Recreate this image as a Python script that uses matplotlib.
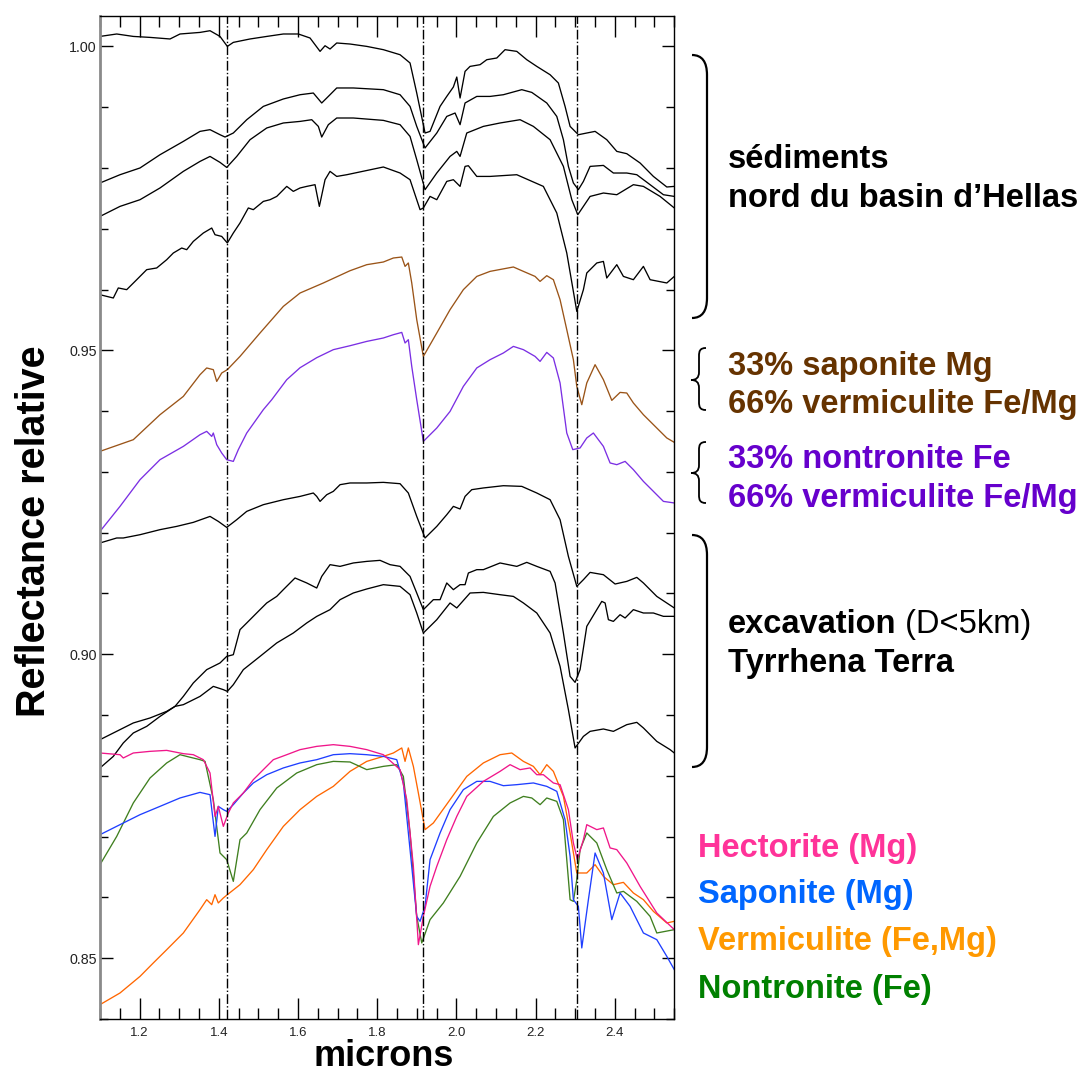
"""
Spectres de réflectance relative : sédiments (Hellas), mélanges, excavation
(Tyrrhena Terra) et spectres de labo de smectites.
"""
import matplotlib
matplotlib.use("Agg")
import matplotlib.pyplot as plt
import matplotlib.ticker as mticker
from matplotlib.path import Path
from matplotlib.patches import PathPatch

plt.rcParams["font.family"] = ["Liberation Sans", "DejaVu Sans"]

# ---------------------------------------------------------------- données
# sédiments, nord du bassin d'Hellas (4 spectres, de haut en bas)
sed1_wl = [1.100, 1.1422, 1.1841, 1.2263, 1.2768, 1.3020, 1.3525, 1.3778, 1.4030, 1.4215,
           1.4366, 1.4788, 1.5210, 1.5629, 1.6008, 1.6303, 1.6556, 1.6682, 1.6808, 1.6977,
           1.7313, 1.7735, 1.8154, 1.8576, 1.8828, 1.8997, 1.9207, 1.9333, 1.9586, 1.9755,
           1.9922, 2.0008, 2.0091, 2.0217, 2.0343, 2.0596, 2.0765, 2.1018, 2.1227, 2.1523,
           2.1775, 2.2028, 2.2364, 2.2573, 2.2742, 2.2869, 2.3078, 2.3290, 2.3500, 2.3795,
           2.4048, 2.4300, 2.4636, 2.4972, 2.5311, 2.550]
sed1_r = [1.00164, 1.00204, 1.00164, 1.00148, 1.00122, 1.00204, 1.0023, 1.00258, 1.00164, 1.0000,
          1.00066, 1.00122, 1.00164, 1.00204, 1.00204, 1.00138, 0.99918, 1.00011, 0.99957, 1.00056,
          1.00039, 1.0000, 0.99946, 0.99863, 0.99727, 0.99233, 0.98575, 0.98602, 0.99013, 0.99177,
          0.99332, 0.99496, 0.99151, 0.99589, 0.99671, 0.99699, 0.99781, 0.99809, 0.99946, 0.99918,
          0.99781, 0.99671, 0.99534, 0.99398, 0.99013, 0.98684, 0.98547, 0.98575, 0.98602, 0.98465,
          0.98273, 0.98235, 0.98082, 0.97861, 0.97687, 0.97697]

sed2_wl = [1.100, 1.1505, 1.2010, 1.2515, 1.3104, 1.3525, 1.3778, 1.4030, 1.4157, 1.4366,
           1.4705, 1.5124, 1.5629, 1.6051, 1.6386, 1.6598, 1.6765, 1.6977, 1.7396, 1.8154,
           1.8576, 1.8828, 1.8997, 1.9207, 1.9503, 1.9755, 1.9965, 2.0091, 2.0217, 2.0513,
           2.0848, 2.1184, 2.1649, 2.1902, 2.2280, 2.2533, 2.2700, 2.2826, 2.2952, 2.3078,
           2.3205, 2.3374, 2.3710, 2.3962, 2.4300, 2.4553, 2.4889, 2.5225, 2.550]
sed2_r = [0.97753, 0.97889, 0.98000, 0.98218, 0.98437, 0.98602, 0.98630, 0.98547, 0.98509, 0.98575,
          0.98794, 0.99013, 0.99135, 0.99205, 0.99233, 0.99069, 0.99177, 0.99316, 0.99316, 0.99288,
          0.99205, 0.99013, 0.98684, 0.98329, 0.98575, 0.98848, 0.98904, 0.98712, 0.99069, 0.99177,
          0.99177, 0.99205, 0.99288, 0.99243, 0.99069, 0.98848, 0.98465, 0.98026, 0.97753, 0.97643,
          0.97779, 0.98026, 0.98042, 0.97917, 0.97917, 0.97889, 0.97725, 0.97560, 0.97532]

sed3_wl = [1.100, 1.1505, 1.2010, 1.2515, 1.3104, 1.3525, 1.3778, 1.4030, 1.4199, 1.4452,
           1.4788, 1.5210, 1.5629, 1.6051, 1.6346, 1.6513, 1.6598, 1.6765, 1.6977, 1.7396,
           1.8154, 1.8576, 1.8828, 1.8997, 1.9207, 1.9503, 1.9838, 2.0008, 2.0091, 2.0260,
           2.0679, 2.1101, 2.1606, 2.1942, 2.2364, 2.2700, 2.2912, 2.3063, 2.3374, 2.3710,
           2.4048, 2.4467, 2.4720, 2.5141, 2.550]
sed3_r = [0.97203, 0.97368, 0.97478, 0.97671, 0.97944, 0.98108, 0.98190, 0.98092, 0.98009, 0.98190,
          0.98465, 0.98658, 0.98740, 0.98766, 0.98794, 0.98684, 0.98509, 0.98712, 0.98822, 0.98822,
          0.98783, 0.98712, 0.98519, 0.98136, 0.97643, 0.97917, 0.98190, 0.98273, 0.98190, 0.98575,
          0.98684, 0.98740, 0.98794, 0.98684, 0.98465, 0.98026, 0.97478, 0.97231, 0.97532, 0.97588,
          0.97560, 0.97725, 0.97697, 0.97532, 0.97342]

sed4_wl = [1.100, 1.1336, 1.1462, 1.1674, 1.1927, 1.2179, 1.2432, 1.2684, 1.2851, 1.3063,
           1.3189, 1.3356, 1.3609, 1.3821, 1.3904, 1.4073, 1.4215, 1.4366, 1.4535, 1.4745,
           1.4871, 1.5124, 1.5293, 1.5462, 1.5715, 1.5881, 1.6051, 1.6220, 1.6429, 1.6538,
           1.6682, 1.6808, 1.6977, 1.7230, 1.8154, 1.8576, 1.8828, 1.9081, 1.9164, 1.9333,
           1.9503, 1.9755, 1.9922, 2.0091, 2.0217, 2.0301, 2.0513, 2.0848, 2.1523, 2.2194,
           2.2533, 2.2785, 2.3038, 2.3205, 2.3290, 2.3543, 2.3710, 2.3795, 2.4048, 2.4215,
           2.4467, 2.4720, 2.4889, 2.5311, 2.550]
sed4_r = [0.95915, 0.95861, 0.96026, 0.95998, 0.96162, 0.96327, 0.96355, 0.96491, 0.96601, 0.96683,
          0.96656, 0.96792, 0.96930, 0.97012, 0.96902, 0.96874, 0.96766, 0.96930, 0.97095, 0.97342,
          0.97314, 0.97450, 0.97478, 0.97532, 0.97697, 0.97615, 0.97671, 0.97697, 0.97725, 0.97368,
          0.97807, 0.97944, 0.97861, 0.97889, 0.98016, 0.97917, 0.97807, 0.97314, 0.97342, 0.97532,
          0.97478, 0.97779, 0.97807, 0.97697, 0.98026, 0.98037, 0.97861, 0.97861, 0.97889, 0.97697,
          0.97259, 0.96601, 0.95641, 0.95998, 0.96272, 0.96437, 0.96463, 0.96190, 0.96409, 0.96216,
          0.96162, 0.96381, 0.96162, 0.96108, 0.96216]

# mélanges synthétiques
mix_sap_wl = [1.100, 1.1841, 1.2515, 1.3104, 1.3525, 1.3694, 1.3861, 1.3947, 1.4073, 1.4215,
              1.4535, 1.5040, 1.5629, 1.6051, 1.6639, 1.7313, 1.7735, 1.8154, 1.8407, 1.8619,
              1.8702, 1.8785, 1.8871, 1.8997, 1.9164, 1.9503, 1.9838, 2.0174, 2.0513, 2.0848,
              2.1437, 2.1690, 2.1985, 2.2111, 2.2280, 2.2447, 2.2616, 2.2785, 2.2952, 2.3038,
              2.3164, 2.3290, 2.3500, 2.3710, 2.3922, 2.4131, 2.4300, 2.4467, 2.4720, 2.5058,
              2.5311, 2.550]
mix_sap_r = [0.93338, 0.93530, 0.93941, 0.94242, 0.94599, 0.94710, 0.94682, 0.94489, 0.94627, 0.94682,
             0.94900, 0.95285, 0.95723, 0.95943, 0.96108, 0.96310, 0.96409, 0.96453, 0.96519, 0.96535,
             0.96381, 0.96437, 0.96108, 0.95504, 0.94900, 0.95285, 0.95669, 0.95998, 0.96216, 0.96299,
             0.96371, 0.96299, 0.96216, 0.96134, 0.96228, 0.96162, 0.95833, 0.95340, 0.94846, 0.94407,
             0.94106, 0.94463, 0.94764, 0.94517, 0.94177, 0.94308, 0.94298, 0.94134, 0.93941, 0.93722,
             0.93558, 0.93486]

mix_non_wl = [1.100, 1.1505, 1.2010, 1.2515, 1.3104, 1.3525, 1.3694, 1.3821, 1.3861, 1.3947,
              1.4073, 1.4199, 1.4366, 1.4492, 1.4705, 1.5124, 1.5336, 1.5715, 1.6051, 1.6472,
              1.6891, 1.7313, 1.7735, 1.8154, 1.8407, 1.8619, 1.8702, 1.8785, 1.8871, 1.8997,
              1.9164, 1.9503, 1.9838, 2.0174, 2.0513, 2.0848, 2.1184, 2.1437, 2.1690, 2.1985,
              2.2111, 2.2280, 2.2447, 2.2616, 2.2785, 2.2937, 2.3121, 2.3290, 2.3457, 2.3710,
              2.3879, 2.4048, 2.4258, 2.4467, 2.4720, 2.4972, 2.5225, 2.550]
mix_non_r = [0.92022, 0.92433, 0.92872, 0.93201, 0.93420, 0.93612, 0.93667, 0.93584, 0.93640, 0.93448,
             0.93311, 0.93201, 0.93173, 0.93366, 0.93640, 0.94024, 0.94188, 0.94517, 0.94714, 0.94879,
             0.95011, 0.95076, 0.95147, 0.95203, 0.95257, 0.95295, 0.95121, 0.95175, 0.94736, 0.94188,
             0.93502, 0.93722, 0.93995, 0.94407, 0.94710, 0.94846, 0.94956, 0.95065, 0.95011, 0.94900,
             0.94818, 0.94966, 0.94874, 0.94463, 0.93640, 0.93366, 0.93394, 0.93558, 0.93640, 0.93420,
             0.93147, 0.93119, 0.93173, 0.93037, 0.92844, 0.92680, 0.92515, 0.92489]

# excavation, Tyrrhena Terra (3 spectres)
exc1_wl = [1.100, 1.1422, 1.1588, 1.2010, 1.2515, 1.2937, 1.3356, 1.3778, 1.3987, 1.4199,
           1.4452, 1.4705, 1.5124, 1.5629, 1.6051, 1.6386, 1.6472, 1.6556, 1.6725, 1.6891,
           1.7061, 1.7313, 1.7735, 1.8154, 1.8576, 1.8785, 1.8997, 1.9207, 1.9503, 1.9755,
           1.9922, 2.0091, 2.0217, 2.0386, 2.0679, 2.1184, 2.1649, 2.2028, 2.2364, 2.2616,
           2.2826, 2.3038, 2.3205, 2.3374, 2.3710, 2.4005, 2.4300, 2.4553, 2.4720, 2.5058, 2.550]
exc1_r = [0.91831, 0.91913, 0.91913, 0.91967, 0.92050, 0.92104, 0.92170, 0.92268, 0.92186, 0.92087,
          0.92214, 0.92351, 0.92461, 0.92543, 0.92597, 0.92653, 0.92597, 0.92515, 0.92625, 0.92680,
          0.92790, 0.92818, 0.92818, 0.92828, 0.92806, 0.92653, 0.92268, 0.91913, 0.92104, 0.92296,
          0.92433, 0.92390, 0.92597, 0.92708, 0.92736, 0.92773, 0.92762, 0.92653, 0.92543, 0.92214,
          0.91610, 0.91117, 0.91227, 0.91347, 0.91309, 0.91156, 0.91199, 0.91265, 0.91173, 0.90952, 0.90762]

exc2_wl = [1.100, 1.1336, 1.1588, 1.1841, 1.2179, 1.2515, 1.2894, 1.3104, 1.3356, 1.3694,
           1.4030, 1.4199, 1.4366, 1.4535, 1.4705, 1.5040, 1.5210, 1.5462, 1.5629, 1.5924,
           1.6220, 1.6472, 1.6598, 1.6808, 1.7061, 1.7396, 1.7735, 1.8071, 1.8323, 1.8576,
           1.8828, 1.8997, 1.9164, 1.9417, 1.9586, 1.9755, 1.9922, 2.0091, 2.0217, 2.0301,
           2.0513, 2.0679, 2.1101, 2.1523, 2.1775, 2.2028, 2.2364, 2.2490, 2.2700, 2.2869,
           2.2995, 2.3121, 2.3290, 2.3543, 2.3669, 2.3753, 2.3836, 2.3962, 2.4131, 2.4258,
           2.4467, 2.4720, 2.4972, 2.5225, 2.550]
exc2_r = [0.88130, 0.88320, 0.88541, 0.88705, 0.88814, 0.88978, 0.89143, 0.89307, 0.89528, 0.89747,
          0.89857, 0.89965, 0.89993, 0.90405, 0.90515, 0.90734, 0.90844, 0.90952, 0.91063, 0.91255,
          0.91173, 0.91090, 0.91281, 0.91474, 0.91446, 0.91502, 0.91528, 0.91545, 0.91474, 0.91446,
          0.91281, 0.91008, 0.90734, 0.90898, 0.90898, 0.91173, 0.91063, 0.91145, 0.91145, 0.91337,
          0.91392, 0.91392, 0.91502, 0.91446, 0.91512, 0.91446, 0.91364, 0.91173, 0.90350, 0.89636,
          0.89538, 0.89747, 0.90459, 0.90734, 0.90870, 0.90844, 0.90569, 0.90541, 0.90651, 0.90597,
          0.90734, 0.90679, 0.90679, 0.90624, 0.90624]

exc3_wl = [1.100, 1.1505, 1.1841, 1.2263, 1.2684, 1.2894, 1.3104, 1.3525, 1.3861, 1.4114,
           1.4215, 1.4366, 1.4619, 1.5040, 1.5462, 1.5881, 1.6220, 1.6472, 1.6556, 1.6808,
           1.7061, 1.7396, 1.7735, 1.8154, 1.8576, 1.8828, 1.8997, 1.9164, 1.9503, 1.9838,
           2.0008, 2.0343, 2.0679, 2.1101, 2.1437, 2.1690, 2.2028, 2.2364, 2.2616, 2.2826,
           2.2995, 2.3205, 2.3374, 2.3710, 2.3962, 2.4300, 2.4553, 2.4720, 2.5058, 2.5394, 2.550]
exc3_r = [0.88595, 0.88760, 0.88870, 0.88952, 0.89061, 0.89143, 0.89171, 0.89307, 0.89472, 0.89418,
          0.89390, 0.89500, 0.89747, 0.89965, 0.90186, 0.90350, 0.90515, 0.90623, 0.90651, 0.90734,
          0.90898, 0.91008, 0.91074, 0.91145, 0.91117, 0.90980, 0.90679, 0.90350, 0.90569, 0.90844,
          0.90762, 0.91008, 0.91018, 0.90980, 0.90952, 0.90844, 0.90679, 0.90350, 0.89801, 0.89089,
          0.88459, 0.88649, 0.88732, 0.88771, 0.88732, 0.88842, 0.88880, 0.88788, 0.88567, 0.88431, 0.88376]

# spectres de laboratoire
hect_wl = [1.100, 1.1505, 1.1588, 1.1841, 1.2263, 1.2684, 1.3104, 1.3356, 1.3609, 1.3778,
           1.3904, 1.3987, 1.4114, 1.4240, 1.4366, 1.4619, 1.4871, 1.5124, 1.5376, 1.5715,
           1.6051, 1.6472, 1.6891, 1.7313, 1.7735, 1.8154, 1.8576, 1.8745, 1.8912, 1.9038,
           1.9164, 1.9333, 1.9503, 1.9755, 2.0008, 2.0260, 2.0679, 2.1101, 2.1354, 2.1606,
           2.1859, 2.2028, 2.2194, 2.2447, 2.2616, 2.2826, 2.2952, 2.3053, 2.3205, 2.3290,
           2.3543, 2.3710, 2.3879, 2.4048, 2.4300, 2.4636, 2.5058, 2.550]
hect_r = [0.88376, 0.88348, 0.88294, 0.88376, 0.88403, 0.88419, 0.88365, 0.88348, 0.88266, 0.88047,
          0.87333, 0.87498, 0.87169, 0.87389, 0.87554, 0.87718, 0.87937, 0.88102, 0.88266, 0.88348,
          0.88431, 0.88485, 0.88513, 0.88485, 0.88431, 0.88348, 0.88102, 0.87608, 0.86511, 0.85223,
          0.85688, 0.86182, 0.86511, 0.86950, 0.87333, 0.87662, 0.87909, 0.88074, 0.88184, 0.88102,
          0.88130, 0.88019, 0.88019, 0.87883, 0.87855, 0.87444, 0.86896, 0.86621, 0.86950, 0.87197,
          0.87115, 0.87143, 0.86814, 0.86786, 0.86567, 0.86182, 0.85744, 0.85470]

sapo_wl = [1.100, 1.1505, 1.2010, 1.2515, 1.3020, 1.3525, 1.3778, 1.3904, 1.3987, 1.4114,
           1.4199, 1.4366, 1.4619, 1.4871, 1.5210, 1.5629, 1.6051, 1.6472, 1.6891, 1.7313,
           1.7735, 1.8154, 1.8492, 1.8659, 1.8828, 1.8997, 1.9081, 1.9207, 1.9333, 1.9586,
           1.9838, 2.0174, 2.0513, 2.0848, 2.1184, 2.1523, 2.1942, 2.2280, 2.2533, 2.2742,
           2.2869, 2.2952, 2.3078, 2.3164, 2.3331, 2.3500, 2.3710, 2.3922, 2.4131, 2.4384,
           2.4720, 2.5058, 2.5311, 2.550]
sapo_r = [0.87032, 0.87197, 0.87361, 0.87498, 0.87636, 0.87728, 0.87690, 0.87004, 0.87498, 0.87444,
          0.87416, 0.87526, 0.87718, 0.87883, 0.88019, 0.88130, 0.88212, 0.88266, 0.88348, 0.88365,
          0.88348, 0.88320, 0.88266, 0.87883, 0.86786, 0.85688, 0.85606, 0.85853, 0.86621, 0.87060,
          0.87444, 0.87773, 0.87909, 0.87909, 0.87838, 0.87855, 0.87883, 0.87827, 0.87745, 0.87279,
          0.86675, 0.85963, 0.85853, 0.85169, 0.85963, 0.86731, 0.86402, 0.85634, 0.86073, 0.85853,
          0.85415, 0.85305, 0.85030, 0.84812]

verm_wl = [1.100, 1.1505, 1.2010, 1.2346, 1.2684, 1.3104, 1.3525, 1.3694, 1.3821, 1.3904,
           1.3987, 1.4114, 1.4215, 1.4535, 1.4871, 1.5210, 1.5629, 1.6051, 1.6472, 1.6891,
           1.7313, 1.7735, 1.8154, 1.8407, 1.8619, 1.8702, 1.8785, 1.8912, 1.9038, 1.9207,
           1.9417, 1.9838, 2.0260, 2.0679, 2.1101, 2.1396, 2.1690, 2.1942, 2.2111, 2.2280,
           2.2447, 2.2700, 2.2869, 2.3038, 2.3290, 2.3500, 2.3710, 2.3962, 2.4215, 2.4467,
           2.4720, 2.4972, 2.5311, 2.550]
verm_r = [0.84236, 0.84428, 0.84701, 0.84922, 0.85140, 0.85415, 0.85799, 0.85963, 0.85881, 0.86045,
          0.85909, 0.85991, 0.86045, 0.86210, 0.86457, 0.86786, 0.87169, 0.87444, 0.87662, 0.87827,
          0.88074, 0.88238, 0.88320, 0.88376, 0.88459, 0.88238, 0.88459, 0.88156, 0.87718, 0.87115,
          0.87225, 0.87608, 0.87991, 0.88212, 0.88348, 0.88376, 0.88238, 0.88156, 0.88019, 0.88184,
          0.88074, 0.87662, 0.87060, 0.86402, 0.86402, 0.86539, 0.86346, 0.86210, 0.86248, 0.86073,
          0.85963, 0.85771, 0.85580, 0.85607]

nont_wl = [1.100, 1.1422, 1.1841, 1.2263, 1.2684, 1.3020, 1.3189, 1.3525, 1.3652, 1.3861,
           1.4030, 1.4199, 1.4366, 1.4535, 1.4705, 1.5040, 1.5462, 1.5967, 1.6472, 1.6891,
           1.7313, 1.7735, 1.8154, 1.8492, 1.8659, 1.8828, 1.8997, 1.9124, 1.9333, 1.9669,
           2.0091, 2.0513, 2.0932, 2.1354, 2.1690, 2.1902, 2.2111, 2.2280, 2.2533, 2.2700,
           2.2785, 2.2869, 2.2952, 2.3038, 2.3121, 2.3290, 2.3543, 2.3795, 2.4048, 2.4215,
           2.4553, 2.4889, 2.5058, 2.550]
nont_r = [0.86539, 0.87004, 0.87554, 0.87965, 0.88212, 0.88348, 0.88320, 0.88266, 0.88238, 0.87608,
          0.86731, 0.86621, 0.86264, 0.86950, 0.87060, 0.87444, 0.87800, 0.88047, 0.88184, 0.88238,
          0.88228, 0.88102, 0.88156, 0.88184, 0.87991, 0.87060, 0.85688, 0.85251, 0.85634, 0.85909,
          0.86346, 0.86896, 0.87333, 0.87554, 0.87662, 0.87636, 0.87526, 0.87636, 0.87580, 0.87279,
          0.86621, 0.85963, 0.85935, 0.86292, 0.86786, 0.87060, 0.86896, 0.86457, 0.86073, 0.86100,
          0.85935, 0.85688, 0.85415, 0.85470]

# bandes d'absorption marquées (microns)
band_centres = [1.42, 1.915, 2.305]

x_ticks = [1.2, 1.4, 1.6, 1.8, 2.0, 2.2, 2.4]
y_ticks = [0.85, 0.90, 0.95, 1.00]

# ---------------------------------------------------------------- figure
W, H = 1081, 1075
fig = plt.figure(figsize=(W / 100, H / 100), dpi=100)
ax = fig.add_axes([100 / W, 1 - 1019 / H, 574.3 / W, 1003 / H])


def fx(px):
    return px / W


def fy(py):
    return 1 - py / H


lw = 0.95
for wl, r in [(sed1_wl, sed1_r), (sed2_wl, sed2_r), (sed3_wl, sed3_r), (sed4_wl, sed4_r),
              (exc1_wl, exc1_r), (exc2_wl, exc2_r), (exc3_wl, exc3_r)]:
    ax.plot(wl, r, color="black", lw=lw)

ax.plot(mix_sap_wl, mix_sap_r, color="#9a5418", lw=lw)
ax.plot(mix_non_wl, mix_non_r, color="#7b2fe3", lw=lw)
ax.plot(verm_wl, verm_r, color="#ff6600", lw=lw)
ax.plot(nont_wl, nont_r, color="#3f7f1f", lw=lw)
ax.plot(sapo_wl, sapo_r, color="#1f3fff", lw=lw)
ax.plot(hect_wl, hect_r, color="#f0168a", lw=lw)

for b in band_centres:
    ax.axvline(b, color="black", lw=1.0, ls=(0, (7, 1.6, 1, 1.6)))

ax.set_xlim(1.1, 2.55)
ax.set_ylim(0.84, 1.005)
ax.xaxis.set_major_locator(mticker.FixedLocator(x_ticks))
ax.xaxis.set_minor_locator(mticker.MultipleLocator(0.05))
ax.yaxis.set_major_locator(mticker.FixedLocator(y_ticks))
ax.yaxis.set_minor_locator(mticker.MultipleLocator(0.01))
ax.xaxis.set_major_formatter(mticker.FormatStrFormatter("%.1f"))
ax.yaxis.set_major_formatter(mticker.FormatStrFormatter("%.2f"))

ax.tick_params(axis="x", which="major", direction="in", top=True, length=15, width=1,
               labelsize=9.5, pad=6, labelcolor="#222222")
ax.tick_params(axis="x", which="minor", direction="in", top=True, length=8, width=1)
ax.tick_params(axis="y", which="major", direction="in", right=True, length=9, width=1,
               labelsize=10.3, pad=2.5, labelcolor="#222222")
ax.tick_params(axis="y", which="minor", direction="in", right=True, length=5.5, width=1)
for s in ["top", "right", "bottom"]:
    ax.spines[s].set_linewidth(1.0)
ax.spines["left"].set_color("#8a8a8a")
ax.spines["left"].set_linewidth(2.0)

fig.text(fx(384), fy(1066), "microns", fontsize=26, fontweight="bold",
         ha="center", va="baseline")
fig.text(fx(45), fy(531), "Reflectance relative", fontsize=28.5, fontweight="bold",
         rotation=90, ha="center", va="baseline", rotation_mode="anchor")


# accolades et crochets (en pixels de la figure)
def crochet(y0, y1, x0=692, x1=707, r=20):
    verts = [(x0, y0), (x1, y0), (x1, y0 + r), (x1, y1 - r), (x1, y1), (x0, y1)]
    codes = [Path.MOVETO, Path.CURVE3, Path.CURVE3, Path.LINETO, Path.CURVE3, Path.CURVE3]
    path = Path([(fx(a), fy(b)) for a, b in verts], codes)
    fig.patches.append(PathPatch(path, fc="none", ec="black", lw=1.6,
                                 transform=fig.transFigure, figure=fig))


def accolade(y0, y1, ym, xr=706, xs=699, xt=691):
    verts = [(xr, y0), (xs + 1, y0), (xs, y0 + 3), (xs, y0 + 8),
             (xs, ym - 8),
             (xs, ym - 2), (xs - 3, ym), (xt, ym),
             (xs - 3, ym), (xs, ym + 2), (xs, ym + 8),
             (xs, y1 - 8),
             (xs, y1 - 3), (xs + 1, y1), (xr, y1)]
    codes = ([Path.MOVETO] + [Path.CURVE4] * 3 + [Path.LINETO] + [Path.CURVE4] * 3
             + [Path.CURVE4] * 3 + [Path.LINETO] + [Path.CURVE4] * 3)
    path = Path([(fx(a), fy(b)) for a, b in verts], codes)
    fig.patches.append(PathPatch(path, fc="none", ec="black", lw=1.3,
                                 transform=fig.transFigure, figure=fig))


crochet(55, 318)
crochet(535, 767)
accolade(348, 410, 380)
accolade(442, 503, 473)

fs = 23.5
tx = fx(728)
fig.text(tx, fy(168), "sédiments", fontsize=fs, fontweight="bold", va="baseline")
fig.text(tx, fy(207), "nord du basin d’Hellas", fontsize=fs, fontweight="bold", va="baseline")
fig.text(tx, fy(375), "33% saponite Mg", fontsize=fs, fontweight="bold", color="#663300",
         va="baseline")
fig.text(tx, fy(413), "66% vermiculite Fe/Mg", fontsize=fs, fontweight="bold", color="#663300",
         va="baseline")
fig.text(tx, fy(468), "33% nontronite Fe", fontsize=fs, fontweight="bold", color="#6600cc",
         va="baseline")
fig.text(tx, fy(507), "66% vermiculite Fe/Mg", fontsize=fs, fontweight="bold", color="#6600cc",
         va="baseline")
t_exc = fig.text(tx, fy(633), "excavation", fontsize=fs, fontweight="bold", va="baseline")
ax.annotate(" (D<5km)", xy=(1, 0), xycoords=t_exc, fontsize=fs, va="bottom", ha="left",
            annotation_clip=False)
fig.text(tx, fy(672), "Tyrrhena Terra", fontsize=fs, fontweight="bold", va="baseline")

lx = fx(698)
fig.text(lx, fy(857), "Hectorite (Mg)", fontsize=fs, fontweight="bold", color="#ff3399",
         va="baseline")
fig.text(lx, fy(903), "Saponite (Mg)", fontsize=fs, fontweight="bold", color="#0066ff",
         va="baseline")
fig.text(lx, fy(950), "Vermiculite (Fe,Mg)", fontsize=fs, fontweight="bold", color="#ff9900",
         va="baseline")
fig.text(lx, fy(998), "Nontronite (Fe)", fontsize=fs, fontweight="bold", color="#008000",
         va="baseline")

fig.savefig("out.png", dpi=100)
plt.close(fig)
